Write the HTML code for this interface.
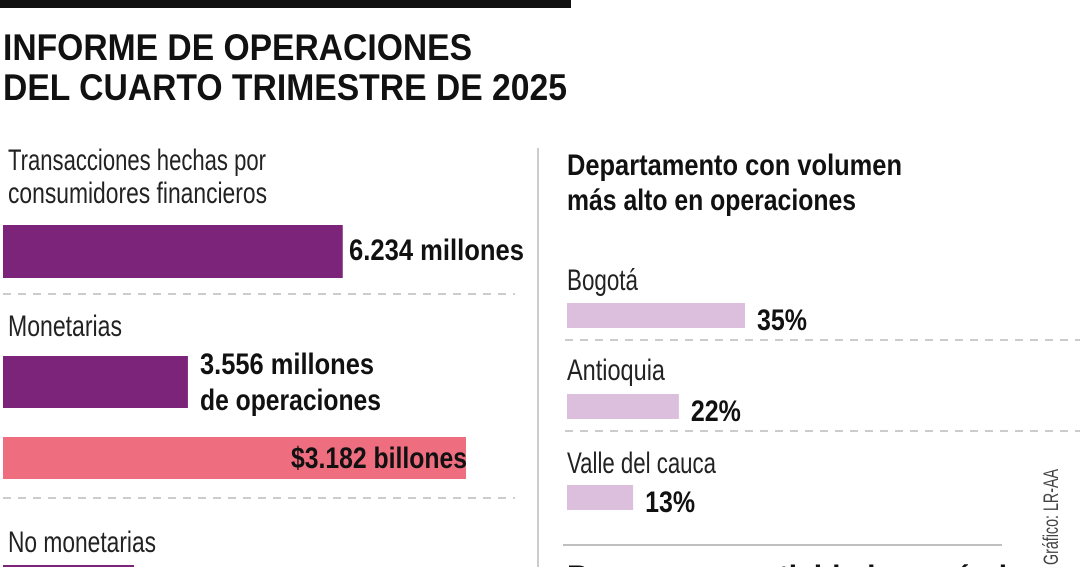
<!DOCTYPE html>
<html><head><meta charset="utf-8"><style>
html,body{margin:0;padding:0;background:#fff;width:1080px;height:567px;overflow:hidden}
svg{display:block;font-family:"Liberation Sans Narrow","Liberation Sans",sans-serif}
.t{font-weight:bold;font-size:37px;fill:#111}
.l{font-size:30px;fill:#222}
.b{font-weight:bold;font-size:30px;fill:#111}
</style></head><body>
<svg width="1080" height="567" viewBox="0 0 1080 567">
<rect x="0" y="0" width="571" height="8" fill="#111"/>
<text class="t" x="3" y="60" textLength="469" lengthAdjust="spacingAndGlyphs">INFORME DE OPERACIONES</text>
<text class="t" x="3" y="100" textLength="564" lengthAdjust="spacingAndGlyphs">DEL CUARTO TRIMESTRE DE 2025</text>
<line x1="538" y1="148" x2="538" y2="567" stroke="#bbb" stroke-width="1.5"/>

<text class="l" x="8" y="170" textLength="258" lengthAdjust="spacingAndGlyphs">Transacciones hechas por</text>
<text class="l" x="8" y="203" textLength="259" lengthAdjust="spacingAndGlyphs">consumidores financieros</text>
<g id="leftbars"></g>
<text class="b" x="349" y="260" textLength="175" lengthAdjust="spacingAndGlyphs">6.234 millones</text>
<line x1="3" y1="294" x2="515" y2="294" stroke="#bbb" stroke-width="1.5" stroke-dasharray="8,7"/>
<text class="l" x="8" y="336" textLength="114" lengthAdjust="spacingAndGlyphs">Monetarias</text>
<text class="b" x="200" y="374" textLength="174" lengthAdjust="spacingAndGlyphs">3.556 millones</text>
<text class="b" x="200" y="410" textLength="181" lengthAdjust="spacingAndGlyphs">de operaciones</text>
<text class="b" x="291" y="468" textLength="176" lengthAdjust="spacingAndGlyphs">$3.182 billones</text>
<line x1="3" y1="498" x2="515" y2="498" stroke="#bbb" stroke-width="1.5" stroke-dasharray="8,7"/>
<text class="l" x="8" y="552" textLength="148" lengthAdjust="spacingAndGlyphs">No monetarias</text>

<text class="b" x="567" y="175" textLength="335" lengthAdjust="spacingAndGlyphs">Departamento con volumen</text>
<text class="b" x="567" y="210" textLength="289" lengthAdjust="spacingAndGlyphs">más alto en operaciones</text>
<g id="rightbars"></g>
<line x1="565" y1="340" x2="1080" y2="340" stroke="#bbb" stroke-width="1.5" stroke-dasharray="8,7"/>
<line x1="565" y1="431" x2="1080" y2="431" stroke="#bbb" stroke-width="1.5" stroke-dasharray="8,7"/>
<line x1="563" y1="545" x2="1002" y2="545" stroke="#aaa" stroke-width="1.5"/>
<text class="b" x="567" y="586">Bancos con actividad económica</text>
<text x="0" y="0" font-size="21" fill="#444" transform="translate(1058,565) rotate(-90)" textLength="96" lengthAdjust="spacingAndGlyphs">Gráfico: LR-AA</text>
</svg>
<script>
var leftCategories=["transacciones","monetarias-operaciones","monetarias-billones","no-monetarias"];
var leftValues=[6234,3556,3182,2520];
var deptCategories=["Bogotá","Antioquia","Valle del cauca"];
var deptValues=[35,22,13];
var deptLabels=["35%","22%","13%"];
var NS="http://www.w3.org/2000/svg";
function xLeft(v,i){return i===2? v*0.1455 : (i===0? v*0.0545 : v*0.052);}
function xDept(v){return v*5.086;}
var lg=document.getElementById('leftbars');
var lTop=[225,356,437,565],lH=[53,52,42,10],lCol=["#7b2479","#7b2479","#ee6d7e","#7b2479"];
leftValues.forEach(function(v,i){
  var r=document.createElementNS(NS,'rect');
  r.setAttribute('x',3);r.setAttribute('y',lTop[i]);
  r.setAttribute('width',xLeft(v,i));r.setAttribute('height',lH[i]);
  r.setAttribute('fill',lCol[i]);
  
  
  lg.appendChild(r);
});
var rg=document.getElementById('rightbars');
var nameY=[290,380,473],barY=[303,394,485],nameW=[71,98,149];
deptValues.forEach(function(v,i){
  var t=document.createElementNS(NS,'text');
  t.setAttribute('class','l');t.setAttribute('x',567);t.setAttribute('y',nameY[i]);
  t.setAttribute('textLength',nameW[i]);t.setAttribute('lengthAdjust','spacingAndGlyphs');
  t.textContent=deptCategories[i];
  
  
  rg.appendChild(t);
  var w=xDept(v);
  var r=document.createElementNS(NS,'rect');
  r.setAttribute('x',567);r.setAttribute('y',barY[i]);r.setAttribute('width',w);r.setAttribute('height',25);
  r.setAttribute('fill','#dcbfdd');
  
  
  rg.appendChild(r);
  var p=document.createElementNS(NS,'text');
  p.setAttribute('class','b');p.setAttribute('x',567+w+12);p.setAttribute('y',barY[i]+27);
  p.setAttribute('textLength',50);p.setAttribute('lengthAdjust','spacingAndGlyphs');
  p.textContent=deptLabels[i];
  
  
  rg.appendChild(p);
});
</script>
</body></html>
